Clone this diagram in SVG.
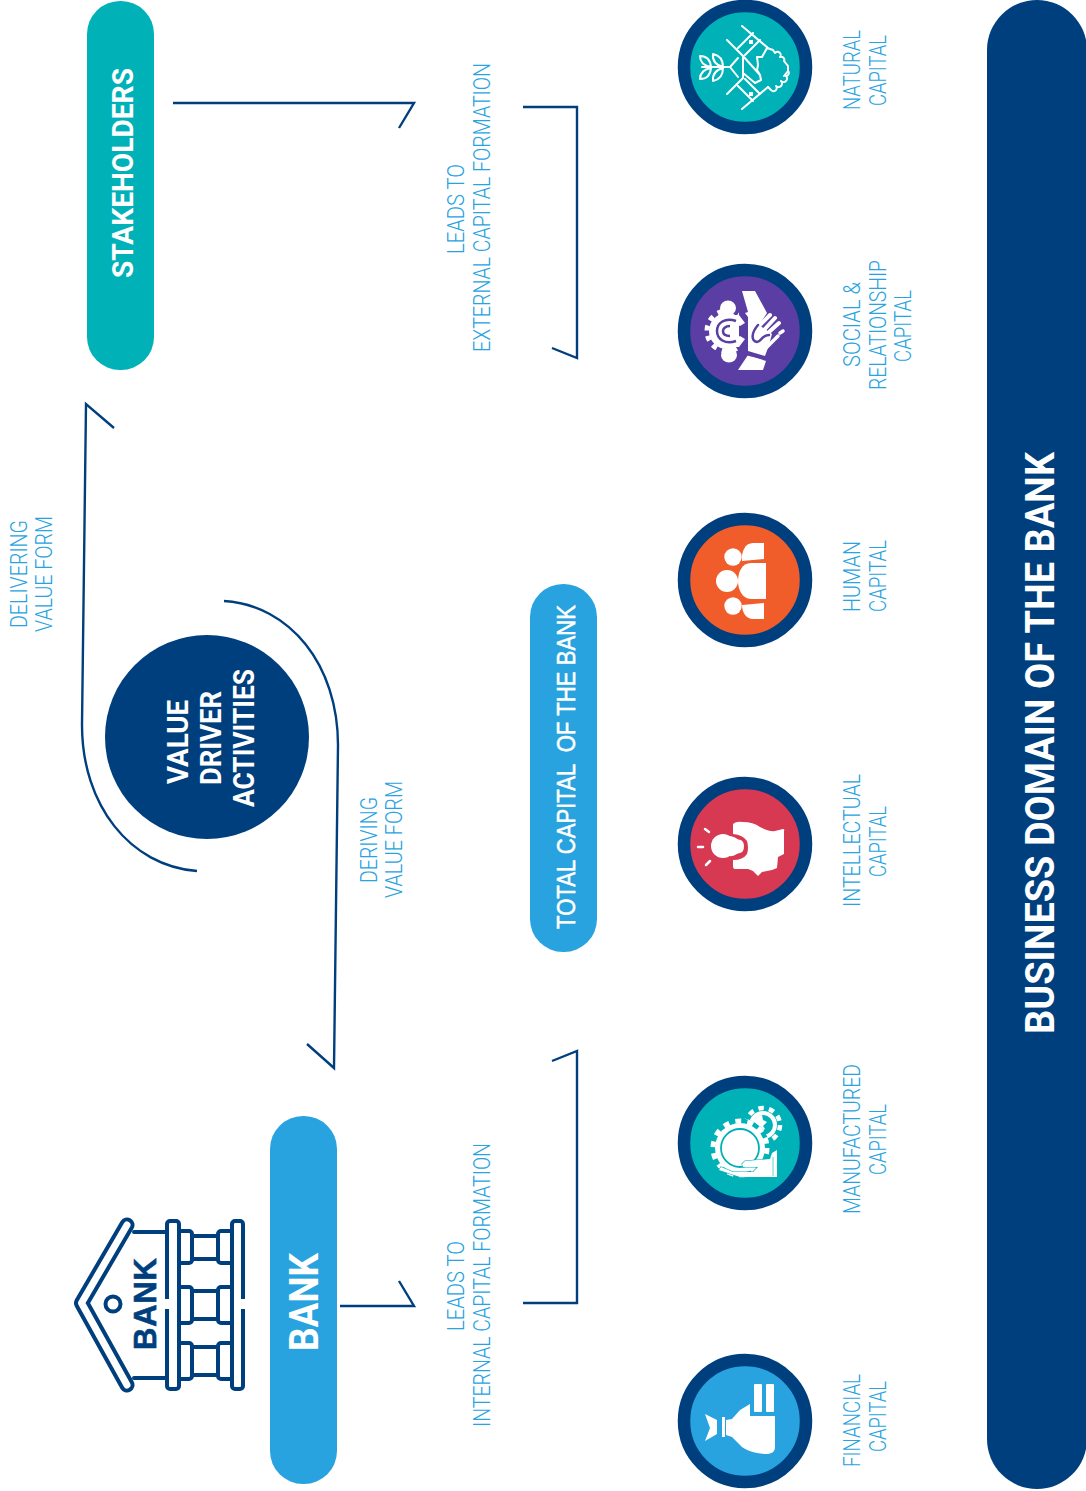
<svg xmlns="http://www.w3.org/2000/svg" width="1086" height="1491" viewBox="0 0 1086 1491">
<style>
text{font-family:"Roboto","Liberation Sans",sans-serif}
.b{font-weight:700;fill:#fff}
.l{font-weight:300;fill:#29a3df;font-size:23px}
.c{fill:none;stroke:#003f7e;stroke-width:2.4}
.r{fill:none;stroke:#003f7e;stroke-width:12.5}
.w{fill:#fff}
.s{fill:none;stroke:#fff;stroke-width:2;stroke-linecap:round;stroke-linejoin:round}
.n{fill:#fff;stroke:#003f7e;stroke-width:4;stroke-linejoin:round;stroke-linecap:round}
</style>
<rect width="1086" height="1491" fill="#fff"/>
<g id="connectors">
<path class="c" d="M173 103H414L399 128"/>
<path class="c" d="M523 107H577V358L552 348"/>
<path class="c" d="M340 1306H414L399 1281"/>
<path class="c" d="M523 1303H577V1051L552 1061"/>
<path class="c" d="M224 601C290 605 338 665 338 745L334 1068L307 1044"/>
<path class="c" d="M197 871C130 866 82 805 82 725L86 404L114 428"/>
</g>
<g id="stakeholders"><rect x="87" y="1" width="67" height="369" rx="33" fill="#00b2b8"/>
<text class="b" font-size="29" textLength="210" lengthAdjust="spacingAndGlyphs" transform="translate(133 278) rotate(-90)">STAKEHOLDERS</text></g>
<g id="bank"><rect x="270" y="1116" width="67" height="368" rx="33" fill="#29a3df"/>
<text class="b" font-size="41" textLength="98" lengthAdjust="spacingAndGlyphs" transform="translate(318 1351) rotate(-90)">BANK</text></g>
<g id="total-capital"><rect x="530" y="584" width="67" height="368" rx="33" fill="#29a3df"/>
<text font-size="26" fill="#fff" stroke="#fff" stroke-width=".5" textLength="324" lengthAdjust="spacingAndGlyphs" style="white-space:pre;font-family:'Liberation Sans',sans-serif" transform="translate(575 929) rotate(-90)">TOTAL CAPITAL  OF THE BANK</text></g>
<g id="business-domain"><rect x="987" y="0" width="100" height="1489" rx="50" fill="#003f7e"/>
<text class="b" font-size="40" textLength="582" lengthAdjust="spacingAndGlyphs" transform="translate(1054 1034) rotate(-90)">BUSINESS DOMAIN OF THE BANK</text></g>
<g id="value-driver"><circle cx="207" cy="737" r="102" fill="#003f7e"/>
<text class="b" font-size="30" textLength="84" lengthAdjust="spacingAndGlyphs" transform="translate(188 784) rotate(-90)">VALUE</text>
<text class="b" font-size="30" textLength="94" lengthAdjust="spacingAndGlyphs" transform="translate(221 785) rotate(-90)">DRIVER</text>
<text class="b" font-size="30" textLength="138" lengthAdjust="spacingAndGlyphs" transform="translate(254 807) rotate(-90)">ACTIVITIES</text></g>
<g id="bank-icon">
<path d="M127 1225L81.500 1303L127 1385" fill="none" stroke="#003f7e" stroke-width="15" stroke-linecap="round" stroke-linejoin="round"/>
<path d="M127 1225L81.500 1303L127 1385" fill="none" stroke="#fff" stroke-width="7" stroke-linecap="round" stroke-linejoin="round"/>
<path class="n" d="M134 1232H167M134 1378H167"/>
<path class="n" d="M231 1231h-10a3 3 0 0 0-3 3v26a3 3 0 0 0 3 3h10M231 1287h-10a3 3 0 0 0-3 3v30a3 3 0 0 0 3 3h10M231 1343h-10a3 3 0 0 0-3 3v30a3 3 0 0 0 3 3h10"/>
<path class="n" d="M180 1231h9a3 3 0 0 1 3 3v26a3 3 0 0 1-3 3h-9M180 1287h9a3 3 0 0 1 3 3v30a3 3 0 0 1-3 3h-9M180 1343h9a3 3 0 0 1 3 3v30a3 3 0 0 1-3 3h-9"/>
<path class="n" fill="none" d="M192 1236H218M192 1259H218M192 1291H218M192 1319H218M192 1347H218M192 1375H218"/>
<rect class="n" x="167" y="1221" width="12" height="168" rx="3"/>
<rect class="n" x="232" y="1221" width="11" height="168" rx="3"/>
<path d="M164 1299h6v10h-6zM240 1299h6v10h-6z" fill="#fff"/>
<circle class="n" cx="113" cy="1304" r="7.500"/>
<text font-size="31" font-weight="700" fill="#003f7e" stroke="#003f7e" stroke-width=".6" textLength="92" lengthAdjust="spacing" transform="translate(156 1350) rotate(-90)" style="font-family:'Liberation Sans',sans-serif">BANK</text>
</g>
<g id="natural-capital" transform="translate(745 67)"><circle r="61" fill="#00b2b8"/><circle class="r" r="61"/>
<path class="s" d="M-3-41L23-19M-3 42L23 20M-18-27L-2-11V11L-18 27M8-34L-7-19M15-27L0-12M8 34L-7 19M15 27L0 12"/>
<path class="s" d="M-2-11L15 8L16 13L10 16L-2 6M15 8L12 3L13-2L12-10L17-10L22-19L28-17L30-14A3 3 0 0 1 35-10A3 3 0 0 1 39-6L43-1L43 4L39 9M23 20L26 23A3 3 0 0 0 31 19A3 3 0 0 0 36 14A3 3 0 0 0 41 9A3 3 0 0 0 43 4"/>
<path class="s" d="M-43 0H-15M-7-9L-15 0L-7 10"/>
<path class="s" d="M-34 0Q-45-2-45-11Q-35-11-34 0ZM-22 0Q-33-3-32-13Q-22-11-22 0ZM-34 1Q-45 3-45 12Q-35 12-34 1ZM-22 1Q-33 4-32 14Q-22 12-22 1Z"/>
<rect class="w" x="4" y="-27" width="4" height="4"/><rect class="w" x="4" y="25" width="4" height="4"/></g>
<g id="social-capital" transform="translate(745 331)"><circle r="61" fill="#5a3ea3"/><circle class="r" r="61"/>
<circle cx="-18" cy="0" r="20" fill="none" stroke="#fff" stroke-width="5" stroke-dasharray="5 5.500"/>
<circle class="w" cx="-18" cy="0" r="18"/>
<path fill="#5a3ea3" d="M-6-30H4V30H-6Z"/>
<ellipse class="w" cx="-17" cy="-23" rx="8" ry="7.500"/><ellipse class="w" cx="-16" cy="24" rx="8" ry="7.500"/>
<path class="w" d="M-22-16H-6L0-8L-5-5L-12-9H-22ZM-22 16H-6L0 8L-5 5L-12 9H-22Z"/>
<path d="M-9-10C-20-14-28-8-28 0C-28 8-20 14-9 10" fill="none" stroke="#5a3ea3" stroke-width="2.500"/>
<path d="M-15-5C-20-5-22-2-22 0C-22 3-20 5-15 5" fill="none" stroke="#5a3ea3" stroke-width="2.500"/>
<path class="w" d="M-3-40H10L22-18L14-6L27 3L24 14L20 25L3 20V-14L0-18L3-19Z"/>
<path class="w" d="M3 24L21 30L18 39H-7Z"/><path d="M0 23L21 28" stroke="#5a3ea3" stroke-width="2" fill="none"/>
<path d="M14-5L25-16M19-1L30-13M24 1L34-8" stroke="#fff" stroke-width="4" stroke-linecap="round"/>
<path d="M13-6C6 2 6 10 12 11C17 11 16 4 24 4" fill="none" stroke="#5a3ea3" stroke-width="2.500" stroke-linecap="round"/>
<path d="M21 17L25 13M26 12L29 9M30 8L33 5M35 2L38 0" stroke="#fff" stroke-width="3.500" stroke-linecap="round"/></g>
<g id="human-capital" transform="translate(745 580)"><circle r="61" fill="#f15c2b"/><circle class="r" r="61"/>
<circle class="w" cx="-12" cy="-23" r="8.700"/><circle class="w" cx="-18" cy="1" r="11"/><circle class="w" cx="-12" cy="26" r="8.700"/>
<path class="w" d="M21-17V19H6C-3 19-7 9-7 1C-7-8-3-17 6-17Z"/>
<path class="w" d="M19-37V-21L-3-19C-4-28 0-37 8-37Z"/><path class="w" d="M19 23V39H8C1 39-3 32-3 25Z"/></g>
<g id="intellectual-capital" transform="translate(745 844)"><circle r="61" fill="#d73852"/><circle class="r" r="61"/>
<path class="w" d="M-12-20Q-9-23-2-22Q8-22 15-17Q25-12 30-13L38-15Q40-15 39-13V10L33 13L32 24L27 26L22 27L17 28L13 32L8 27L3 25H-10Q-12 25-12 22L-12 16Q-2 16 2 10Q4 4 2-3Q-2-9-12-10Z"/>
<circle class="w" cx="-22" cy="2" r="12"/><path class="w" d="M-16-8C-10-8-8-4-4-4Q-1-2-1 2Q-1 8-5 9C-8 9-11 13-16 12Z"/>
<path d="M-40-15L-36-12M-47 3H-42M-39 21L-35 17" stroke="#fff" stroke-width="2.500" stroke-linecap="round"/></g>
<g id="manufactured-capital" transform="translate(745 1143)"><circle r="61" fill="#00b2b8"/><circle class="r" r="61"/>
<circle cx="18" cy="-18" r="17" fill="none" stroke="#fff" stroke-width="4.500" stroke-dasharray="5.500 5.200"/>
<circle cx="18" cy="-18" r="14" class="w"/><circle cx="18" cy="-18" r="10" fill="#00b2b8"/>
<path class="w" d="M8-19C8-25 13-28 17-28L18-23L22-21L18-17L20-14L15-11L11-13Z"/>
<circle cx="-5" cy="5" r="29.500" fill="#00b2b8"/>
<circle cx="-5" cy="5" r="27" fill="none" stroke="#fff" stroke-width="5" stroke-dasharray="6 6.200"/>
<circle cx="-5" cy="5" r="25" class="w"/>
<circle cx="-5" cy="5" r="19" fill="none" stroke="#00b2b8" stroke-width="1.800"/>
<path class="w" d="M32 7V34H-5L-26 27L-24 24L-12 29H8L13 24H-2L-3 21L0 18L25 16L27 10Z" stroke="#00b2b8" stroke-width="1.200" paint-order="stroke"/>
<path d="M28 14V33" stroke="#00b2b8" stroke-width=".6"/></g>
<g id="financial-capital" transform="translate(745 1421)"><circle r="61" fill="#29a3df"/><circle class="r" r="61"/>
<rect class="w" x="9" y="-37" width="8" height="28" rx="1"/><rect class="w" x="21" y="-37" width="8" height="28" rx="1"/>
<path class="w" d="M5-17V-5H30V26C30 31 26 33 22 33C13 33 0 30-5 24L-13 16L-19 14V-1L-13-2L-5-11Z"/>
<rect class="w" x="-23" y="-4" width="3" height="20"/><path class="w" d="M-40-7L-28-1V13L-40 20L-35 7Z"/></g>
<g id="labels">
<text class="l" textLength="108" lengthAdjust="spacingAndGlyphs" transform="translate(27 628) rotate(-90)">DELIVERING</text>
<text class="l" textLength="116" lengthAdjust="spacingAndGlyphs" transform="translate(52 632) rotate(-90)">VALUE FORM</text>
<text class="l" textLength="86" lengthAdjust="spacingAndGlyphs" transform="translate(377 883) rotate(-90)">DERIVING</text>
<text class="l" textLength="117" lengthAdjust="spacingAndGlyphs" transform="translate(402 898) rotate(-90)">VALUE FORM</text>
<text class="l" textLength="90" lengthAdjust="spacingAndGlyphs" transform="translate(464 254) rotate(-90)">LEADS TO</text>
<text class="l" textLength="289" lengthAdjust="spacingAndGlyphs" transform="translate(490 352) rotate(-90)">EXTERNAL CAPITAL FORMATION</text>
<text class="l" textLength="90" lengthAdjust="spacingAndGlyphs" transform="translate(464 1331) rotate(-90)">LEADS TO</text>
<text class="l" textLength="284" lengthAdjust="spacingAndGlyphs" transform="translate(490 1427) rotate(-90)">INTERNAL CAPITAL FORMATION</text>
<text class="l" textLength="80" lengthAdjust="spacingAndGlyphs" transform="translate(860 110) rotate(-90)">NATURAL</text>
<text class="l" textLength="71" lengthAdjust="spacingAndGlyphs" transform="translate(886 106) rotate(-90)">CAPITAL</text>
<text class="l" textLength="85" lengthAdjust="spacingAndGlyphs" transform="translate(860 367) rotate(-90)">SOCIAL &amp;</text>
<text class="l" textLength="130" lengthAdjust="spacingAndGlyphs" transform="translate(886 390) rotate(-90)">RELATIONSHIP</text>
<text class="l" textLength="72" lengthAdjust="spacingAndGlyphs" transform="translate(911 362) rotate(-90)">CAPITAL</text>
<text class="l" textLength="71" lengthAdjust="spacingAndGlyphs" transform="translate(860 612) rotate(-90)">HUMAN</text>
<text class="l" textLength="72" lengthAdjust="spacingAndGlyphs" transform="translate(886 612) rotate(-90)">CAPITAL</text>
<text class="l" textLength="133" lengthAdjust="spacingAndGlyphs" transform="translate(860 907) rotate(-90)">INTELLECTUAL</text>
<text class="l" textLength="71" lengthAdjust="spacingAndGlyphs" transform="translate(886 877) rotate(-90)">CAPITAL</text>
<text class="l" textLength="150" lengthAdjust="spacingAndGlyphs" transform="translate(860 1214) rotate(-90)">MANUFACTURED</text>
<text class="l" textLength="71" lengthAdjust="spacingAndGlyphs" transform="translate(886 1175) rotate(-90)">CAPITAL</text>
<text class="l" textLength="93" lengthAdjust="spacingAndGlyphs" transform="translate(860 1467) rotate(-90)">FINANCIAL</text>
<text class="l" textLength="71" lengthAdjust="spacingAndGlyphs" transform="translate(886 1452) rotate(-90)">CAPITAL</text>
</g>
</svg>
